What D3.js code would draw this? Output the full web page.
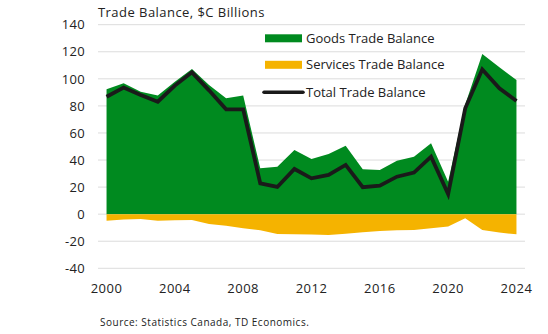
<!DOCTYPE html>
<html><head><meta charset="utf-8">
<script src="https://cdn.jsdelivr.net/npm/d3@7"></script>
<style>body{margin:0;background:#fff}svg{display:block}text{font-family:"Open Sans",sans-serif;fill:#222}</style>
</head><body><svg id="c" width="548" height="334"></svg>
<script>
const years = d3.range(2000, 2025);
const goods = [92.3,96.7,90.5,87.6,97.9,107.3,95.5,85.6,87.6,33.9,35.1,47.4,40.8,44.5,50.6,33.2,32.7,39.5,42.5,52.4,24.0,81.0,118.4,108.5,99.2];
const services = [-4.8,-4.0,-3.6,-4.8,-4.5,-4.3,-7.2,-8.5,-10.4,-11.9,-14.6,-14.9,-15.1,-15.4,-14.4,-13.4,-12.4,-11.9,-11.7,-10.4,-9.2,-3.0,-11.7,-13.6,-14.9];
const total = [86.8,93.5,88.0,83.1,95.0,104.8,91.5,77.5,77.5,22.8,20.1,33.4,26.5,29.0,36.4,19.9,21.1,27.7,30.7,42.5,14.9,78.2,107.0,93.0,83.6];
const yTicks = [140,120,100,80,60,40,20,0,-20,-40];
const xTickYears = [2000,2004,2008,2012,2016,2020,2024];
const seriesNames = ["Goods Trade Balance","Services Trade Balance","Total Trade Balance"];
const colors = ["#008a1f","#f5b300","#1a1a1a"];

const svg = d3.select("#c");
const pL = 98, pR = 525, pT = 24.7, pB = 268.3;
const x = d3.scaleBand().domain(years).range([pL, pR]);
const xc = d => x(d) + x.bandwidth()/2;
const y = d3.scaleLinear().domain([-40, 140]).range([pB, pT]);

// gridlines
svg.append("g").selectAll("line").data(yTicks).join("line")
  .attr("x1", pL).attr("x2", pR)
  .attr("y1", d => y(d)).attr("y2", d => y(d))
  .attr("stroke", "#dcdcdc").attr("stroke-width", 1);

// y axis labels
const yAxis = d3.axisLeft(y).tickValues(yTicks).tickSize(0).tickPadding(0).tickFormat(d => String(d));
const ya = svg.append("g").attr("transform", `translate(${pL-13},0)`).call(yAxis);
ya.select(".domain").remove();
ya.selectAll("text").style("font-family", '"Open Sans",sans-serif').style("font-size","13px").style("letter-spacing","0.3px").attr("fill","#222");

// areas
const idx = years.map((d,i)=>i);
const areaG = d3.area().x(i => xc(years[i])).y0(y(0)).y1(i => y(goods[i]));
const areaS = d3.area().x(i => xc(years[i])).y0(y(0)).y1(i => y(services[i]));
svg.append("path").attr("d", areaG(idx)).attr("fill", colors[0]);
svg.append("path").attr("d", areaS(idx)).attr("fill", colors[1]);
const line = d3.line().x(i => xc(years[i])).y(i => y(total[i]));
svg.append("path").attr("d", line(idx)).attr("fill","none").attr("stroke", colors[2]).attr("stroke-width", 3.8).attr("stroke-linejoin","miter");

// x axis labels
const xAxis = d3.axisBottom(x).tickValues(xTickYears).tickSize(0).tickPadding(0);
const xa = svg.append("g").attr("transform", `translate(0,${pB+14})`).call(xAxis);
xa.select(".domain").remove();
xa.selectAll("text").style("font-family", '"Open Sans",sans-serif').style("font-size","13px").style("letter-spacing","0.5px").attr("fill","#222").attr("dy","0.35em").attr("y",6);

// title
svg.append("text").attr("x", 98).attr("y", 12).attr("dy","0.35em").style("font-size","13px").style("letter-spacing","0.45px").text("Trade Balance, $C Billions");

// legend
const lg = svg.append("g");
const ly = [38.3, 64.8, 92.3];
lg.append("rect").attr("x",265).attr("y",ly[0]-4).attr("width",37).attr("height",8).attr("fill",colors[0]);
lg.append("rect").attr("x",265).attr("y",ly[1]-4).attr("width",37).attr("height",8).attr("fill",colors[1]);
lg.append("line").attr("x1",264).attr("x2",303).attr("y1",ly[2]).attr("y2",ly[2]).attr("stroke",colors[2]).attr("stroke-width",3.5).attr("stroke-linecap","round");
lg.selectAll("text.lt").data(seriesNames).join("text").attr("class","lt")
  .attr("x",306).attr("y",(d,i)=>ly[i]).attr("dy","0.35em").style("font-size","13px").text(d=>d);

// source
svg.append("text").attr("x",100).attr("y",322.4).attr("dy","0.35em").style("font-size","10px").style("letter-spacing","0.5px").text("Source: Statistics Canada, TD Economics.");
</script></body></html>
